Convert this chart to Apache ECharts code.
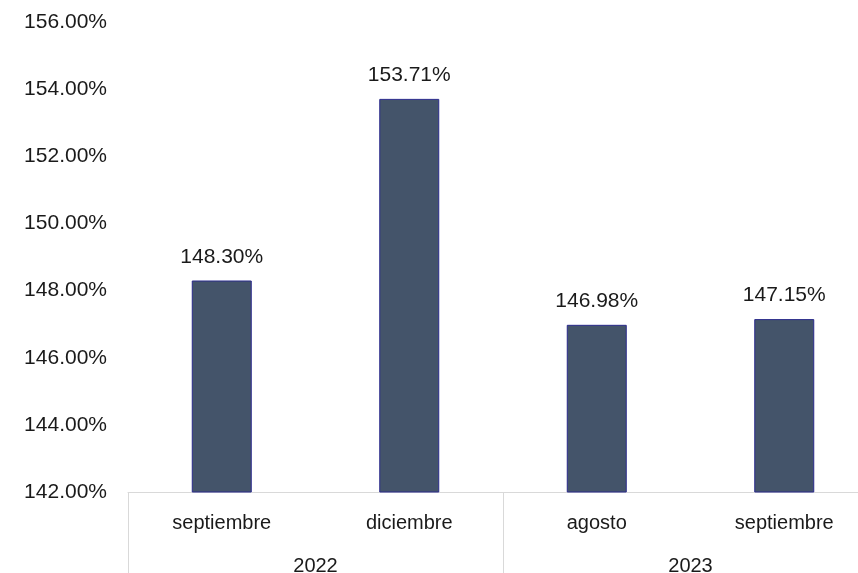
<!DOCTYPE html>
<html>
<head>
<meta charset="utf-8">
<script src="https://cdn.jsdelivr.net/npm/echarts@6/dist/echarts.min.js"></script>
<style>
  html, body { margin: 0; padding: 0; background: #ffffff; overflow: hidden; }
  #chart { width: 878px; height: 573px; }
</style>
</head>
<body>
<div id="chart"></div>
<script>
// Ratio values by month, grouped by year
const months = ['septiembre', 'diciembre', 'agosto', 'septiembre'];
const years = ['2022', '2023'];
const values = [148.30, 153.71, 146.98, 147.15];
const yTicks = { min: 142, max: 156, step: 2 };

const textColor = '#1a1a1a';
const fontFamily = '"Liberation Sans", Arial, sans-serif';
const numSize = 21;
const catSize = 20;

const chart = echarts.init(document.getElementById('chart'), null, { renderer: 'canvas' });

chart.setOption({
  animation: false,
  backgroundColor: '#ffffff',
  grid: { left: 128, right: 0, top: 22, bottom: 81, containLabel: false, outerBoundsMode: 'none' },
  xAxis: [
    {
      type: 'category',
      data: months,
      position: 'bottom',
      axisLine: { show: true, lineStyle: { color: '#d9d9d9', width: 1 } },
      axisTick: { show: false },
      axisLabel: { color: textColor, fontSize: catSize, fontFamily: fontFamily, margin: 21 }
    },
    {
      type: 'category',
      data: years,
      position: 'bottom',
      axisLine: { show: false },
      axisTick: { show: true, length: 81, lineStyle: { color: '#d9d9d9', width: 1 } },
      axisLabel: { color: textColor, fontSize: catSize, fontFamily: fontFamily, margin: 64 }
    }
  ],
  yAxis: {
    type: 'value',
    min: yTicks.min,
    max: yTicks.max,
    interval: yTicks.step,
    axisLine: { show: false },
    axisTick: { show: false },
    splitLine: { show: false },
    axisLabel: {
      color: textColor,
      fontSize: numSize,
      fontFamily: fontFamily,
      margin: 21,
      formatter: v => v.toFixed(2) + '%'
    }
  },
  series: [{
    type: 'bar',
    xAxisIndex: 0,
    data: values,
    barWidth: 60,
    itemStyle: { color: '#44546a', borderColor: '#2a2a8c', borderWidth: 1 },
    label: {
      show: true,
      position: 'top',
      distance: 13,
      color: textColor,
      fontSize: numSize,
      fontFamily: fontFamily,
      formatter: p => p.value.toFixed(2) + '%'
    }
  }]
});
</script>
</body>
</html>
